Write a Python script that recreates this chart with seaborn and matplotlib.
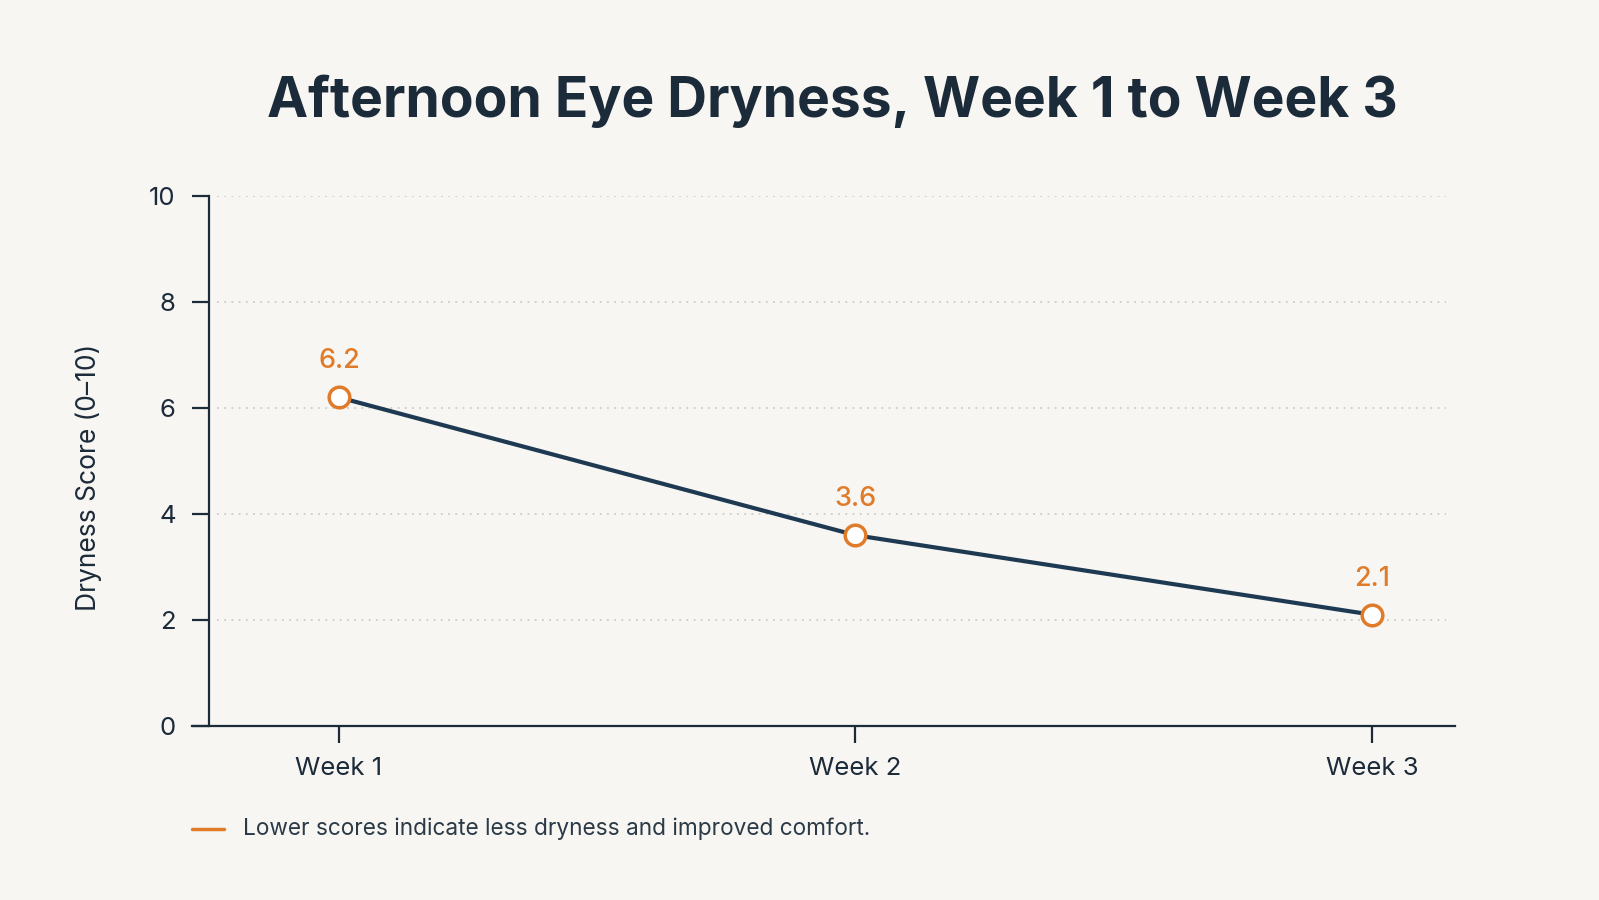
import matplotlib
matplotlib.use("Agg")
import matplotlib.pyplot as plt
from matplotlib.lines import Line2D
import seaborn as sns
import pandas as pd

# data
weeks = ["Week 1", "Week 2", "Week 3"]
week_pos = [1, 2, 3]
scores = [6.2, 3.6, 2.1]
score_labels = ["6.2", "3.6", "2.1"]

bg = "#f8f6f2"
navy = "#1d3a52"
orange = "#e07b2a"
ink = "#1c2b3a"

sns.set_theme(style="white")
plt.rcParams["font.family"] = ["Inter", "DejaVu Sans"]

df = pd.DataFrame({"pos": week_pos, "score": scores, "week": weeks})

fig = plt.figure(figsize=(15.99, 9), dpi=100, facecolor=bg)
ax = fig.add_axes([192 / 1599, 1 - 726 / 900, 1263 / 1599, 530 / 900])
ax.set_facecolor(bg)

sns.lineplot(data=df, x="pos", y="score", color=navy, linewidth=3, ax=ax, zorder=3)
sns.scatterplot(data=df, x="pos", y="score", s=220, facecolor="white",
                edgecolor=orange, linewidth=2.5, ax=ax, zorder=4)

for x, y, t in zip(week_pos, scores, score_labels):
    ax.annotate(t, (x, y), xytext=(0, 26), textcoords="offset points",
                ha="center", va="center", color=orange, fontsize=19.5, fontweight="medium")

ax.set_xlim(0.7154, 3.1607)
ax.set_ylim(0, 10)
ax.set_xticks(week_pos)
ax.set_xticklabels(weeks)
ax.set_yticks([0, 2, 4, 6, 8, 10])
ax.set_xlabel("")
ax.set_ylabel("Dryness Score (0–10)", fontsize=19, color=ink, labelpad=34)
ax.yaxis.label.set_y(0.47)

for y in [2, 4, 6, 8, 10]:
    ax.axhline(y, xmin=0.02, xmax=0.993, color="#cfccc6", linewidth=1.3,
               linestyle=(0, (1, 3)), zorder=1)

for s in ["top", "right"]:
    ax.spines[s].set_visible(False)
ax.spines["left"].set_position(("data", 0.7483))
ax.spines["left"].set_color(ink)
ax.spines["bottom"].set_color(ink)
ax.spines["left"].set_linewidth(1.6)
ax.spines["bottom"].set_linewidth(1.6)
ax.tick_params(axis="both", colors=ink, labelsize=18.5, length=12, width=1.6,
               bottom=True, left=True)
ax.tick_params(axis="y", pad=12)
ax.tick_params(axis="x", pad=10)

fig.text(832 / 1599, 1 - 101 / 900, "Afternoon Eye Dryness, Week 1 to Week 3",
         ha="center", va="center", fontsize=39.7, fontweight="bold", color=ink)

fig.add_artist(Line2D([192 / 1599, 224 / 1599], [1 - 829 / 900] * 2,
                      color=orange, linewidth=2.5))
fig.text(243 / 1599, 1 - 829 / 900, "Lower scores indicate less dryness and improved comfort.",
         ha="left", va="center", fontsize=16.3, color="#2b3a47")

plt.savefig("out.png", dpi=100, facecolor=bg)
plt.close()
